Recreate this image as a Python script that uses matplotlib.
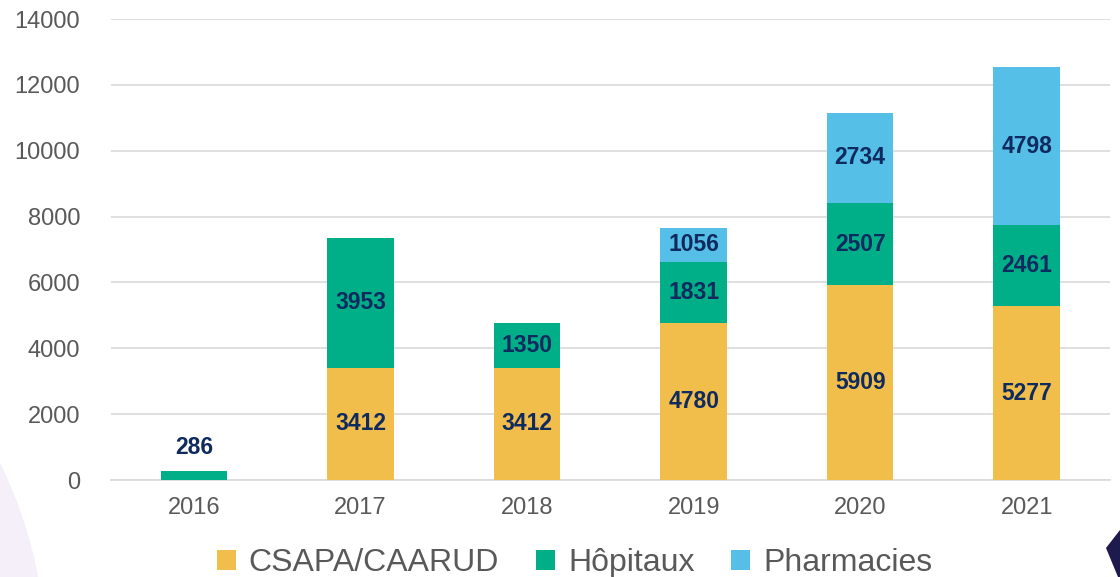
import matplotlib
matplotlib.use("Agg")
import matplotlib.pyplot as plt
from matplotlib.patches import Patch, Circle, Polygon
import numpy as np

years = ["2016", "2017", "2018", "2019", "2020", "2021"]
csapa = [0, 3412, 3412, 4780, 5909, 5277]
hopitaux = [286, 3953, 1350, 1831, 2507, 2461]
pharmacies = [0, 0, 0, 1056, 2734, 4798]
series_names = ["CSAPA/CAARUD", "Hôpitaux", "Pharmacies"]
colors = ["#F2BE4B", "#00AF87", "#55BFE7"]

plt.rcParams['font.family'] = ['Liberation Sans', 'DejaVu Sans']

fig = plt.figure(figsize=(11.2, 5.77), dpi=100)
fig.patch.set_facecolor("white")

# decorative background shapes
bg = fig.add_axes([0, 0, 1, 1], zorder=-10)
bg.set_xlim(0, 1120); bg.set_ylim(577, 0); bg.axis("off")
bg.add_patch(Circle((-400, 660), 446, facecolor="#F4EFF9", edgecolor="none"))
bg.add_patch(Polygon([[1106, 548], [1120, 530], [1120, 577], [1118, 577]], closed=True,
                     facecolor="#1E1A4D", edgecolor="none"))

ax = fig.add_axes([0.099, 0.168, 0.892, 0.799])
ax.patch.set_alpha(0)
x = np.arange(len(years))
w = 0.4
data = [csapa, hopitaux, pharmacies]
bottom = np.zeros(len(years))
for vals, c in zip(data, colors):
    vals = np.array(vals, dtype=float)
    ax.bar(x, vals, w, bottom=bottom, color=c, zorder=3)
    for xi, b, v in zip(x, bottom, vals):
        if v <= 0:
            continue
        if v < 600:
            ax.text(xi, b + v + 350, f"{int(v)}", ha="center", va="bottom",
                    fontsize=16.5, fontweight="bold", color="#0E2A5E", zorder=4)
        else:
            ax.text(xi, b + v / 2, f"{int(v)}", ha="center", va="center",
                    fontsize=16.5, fontweight="bold", color="#0E2A5E", zorder=4)
    bottom += vals

ax.set_xlim(-0.5, len(years) - 0.5)
ax.set_ylim(0, 14000)
ax.set_yticks(range(0, 14001, 2000))
ax.set_xticks(x)
ax.set_xticklabels(years)
ax.yaxis.grid(True, color="#D9D9D9", linewidth=1.2, zorder=0)
ax.set_axisbelow(True)
for s in ["left", "right", "top"]:
    ax.spines[s].set_visible(False)
ax.spines["bottom"].set_color("#D9D9D9")
ax.spines["bottom"].set_linewidth(1.2)
ax.tick_params(axis="both", length=0, labelsize=17, colors="#595959")
ax.tick_params(axis="y", pad=22)
ax.tick_params(axis="x", pad=12)

handles = [Patch(facecolor=c, edgecolor="none") for c in colors]
leg = fig.legend(handles, series_names, loc="lower center", bbox_to_anchor=(0.513, -0.052),
                 ncol=3, frameon=False, fontsize=23, handlelength=0.6, handleheight=0.6,
                 handletextpad=0.4, columnspacing=1.15, labelcolor="#595959")

fig.savefig("out.png", dpi=100, facecolor="white")
